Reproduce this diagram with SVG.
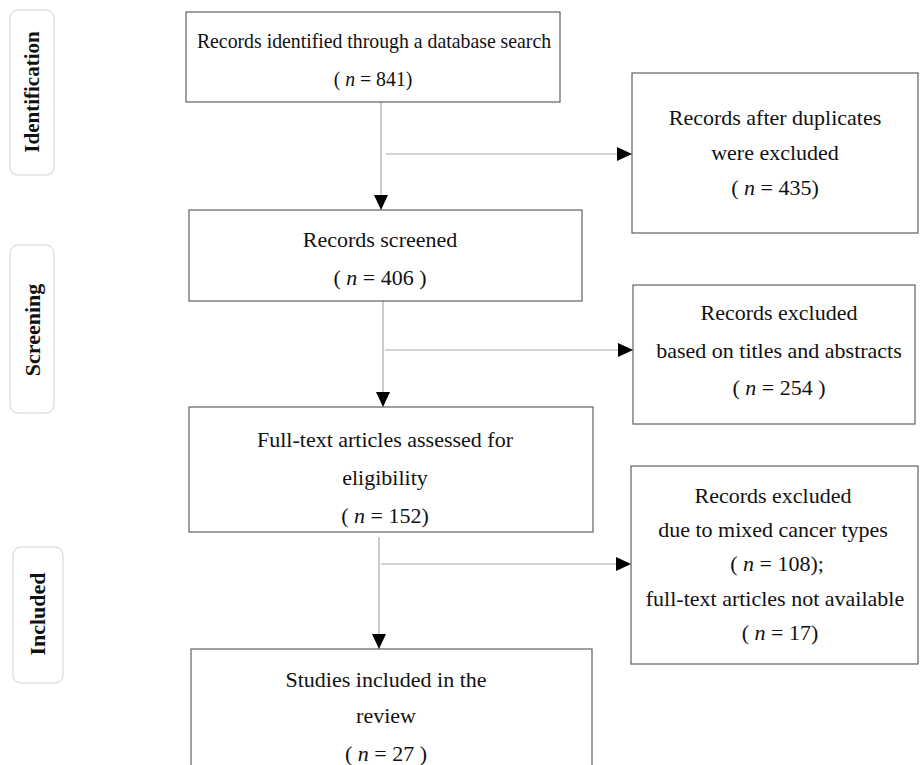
<svg xmlns="http://www.w3.org/2000/svg" width="920" height="765" viewBox="0 0 920 765">
<defs>
<marker id="ah" markerWidth="16" markerHeight="14" refX="15" refY="7" orient="auto" markerUnits="userSpaceOnUse">
<path d="M0,0 L15,7 L0,14 Z" fill="#000"/>
</marker>
</defs>
<style>
.box{fill:#fff;stroke:#606060;stroke-width:1.2}
.stage{fill:#fff;stroke:#d0d0d0;stroke-width:1}
.t{font-family:"Liberation Serif","Times New Roman",serif;font-size:22px;fill:#111;text-anchor:middle}
.s{font-family:"Liberation Serif","Times New Roman",serif;font-size:22px;font-weight:bold;fill:#111;text-anchor:middle}
.c{stroke:#a8a8a8;stroke-width:1.2;fill:none}
</style>
<rect width="920" height="765" fill="#fff"/>

<g id="stage-identification">
<rect class="stage" x="10" y="10" width="44" height="165" rx="8"/>
<text class="s" style="font-size:21px" transform="translate(39,92) rotate(-90)">Identification</text>
</g>
<g id="stage-screening">
<rect class="stage" x="10" y="245" width="44" height="168" rx="8"/>
<text class="s" transform="translate(40,330) rotate(-90)">Screening</text>
</g>
<g id="stage-included">
<rect class="stage" x="13" y="547" width="50" height="136" rx="8"/>
<text class="s" transform="translate(45,614) rotate(-90)">Included</text>
</g>

<g id="connectors">
<line class="c" x1="381" y1="102" x2="381" y2="210" marker-end="url(#ah)"/>
<line class="c" x1="386" y1="154" x2="632" y2="154" marker-end="url(#ah)"/>
<line class="c" x1="383" y1="301" x2="383" y2="407" marker-end="url(#ah)"/>
<line class="c" x1="385" y1="350" x2="633" y2="350" marker-end="url(#ah)"/>
<line class="c" x1="379" y1="537" x2="379" y2="649" marker-end="url(#ah)"/>
<line class="c" x1="381" y1="564" x2="631" y2="564" marker-end="url(#ah)"/>
</g>

<g id="n1">
<rect class="box" x="186" y="12" width="374" height="90"/>
<text class="t" transform="translate(374,48) scale(0.9,1)">Records identified through a database search</text>
<text class="t" transform="translate(373,86) scale(0.9,1)">( <tspan font-style="italic">n</tspan> = 841)</text>
</g>
<g id="n2">
<rect class="box" x="632" y="73" width="286" height="160"/>
<text class="t" x="775" y="125">Records after duplicates</text>
<text class="t" x="775" y="160">were excluded</text>
<text class="t" x="775" y="195">( <tspan font-style="italic">n</tspan> = 435)</text>
</g>
<g id="n3">
<rect class="box" x="189" y="210" width="393" height="91"/>
<text class="t" x="380" y="247">Records screened</text>
<text class="t" x="380" y="285">( <tspan font-style="italic">n</tspan> = 406 )</text>
</g>
<g id="n4">
<rect class="box" x="633" y="285" width="282" height="139"/>
<text class="t" x="779" y="320">Records excluded</text>
<text class="t" x="779" y="358">based on titles and abstracts</text>
<text class="t" x="779" y="395">( <tspan font-style="italic">n</tspan> = 254 )</text>
</g>
<g id="n5">
<rect class="box" x="189" y="407" width="404" height="125"/>
<text class="t" x="385" y="447">Full-text articles assessed for</text>
<text class="t" x="385" y="485">eligibility</text>
<text class="t" x="385" y="523">( <tspan font-style="italic">n</tspan> = 152)</text>
</g>
<g id="n6">
<rect class="box" x="631" y="466" width="287" height="198"/>
<text class="t" x="773" y="503">Records excluded</text>
<text class="t" x="773" y="537">due to mixed cancer types</text>
<text class="t" x="777" y="571">( <tspan font-style="italic">n</tspan> = 108);</text>
<text class="t" x="775" y="606">full-text articles not available</text>
<text class="t" x="780" y="640">( <tspan font-style="italic">n</tspan> = 17)</text>
</g>
<g id="n7">
<rect class="box" x="191" y="649" width="401" height="130"/>
<text class="t" x="386" y="687">Studies included in the</text>
<text class="t" x="386" y="723">review</text>
<text class="t" x="386" y="761">( <tspan font-style="italic">n</tspan> = 27 )</text>
</g>
</svg>
